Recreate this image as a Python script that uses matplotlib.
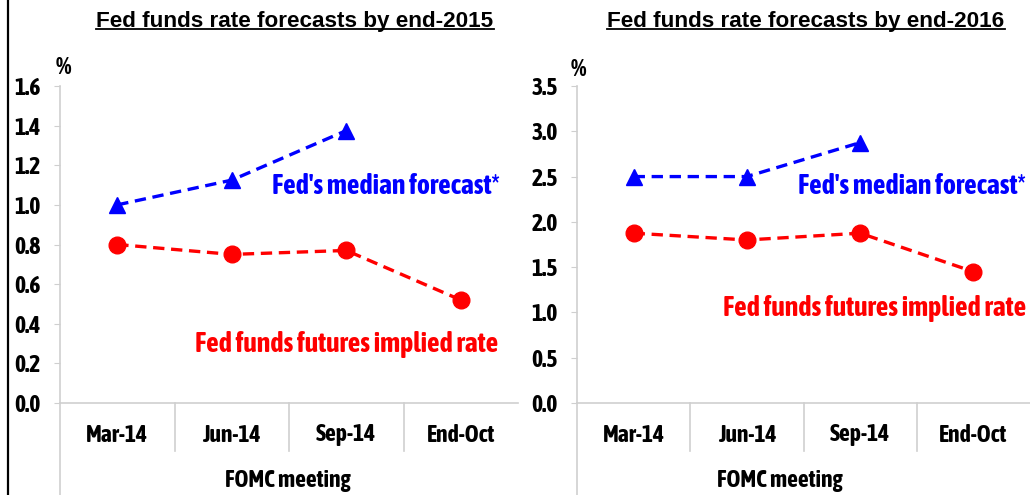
import matplotlib
matplotlib.use("Agg")
import matplotlib.pyplot as plt
import matplotlib.patheffects as pe
from matplotlib import font_manager
from matplotlib.lines import Line2D

# --- données --- #
meetings = ["Mar-14", "Jun-14", "Sep-14", "End-Oct"]

fed_median_2015 = [1.0, 1.125, 1.375]
futures_2015 = [0.80, 0.75, 0.77, 0.52]

fed_median_2016 = [2.5, 2.5, 2.875]
futures_2016 = [1.875, 1.80, 1.875, 1.45]

titles = ["Fed funds rate forecasts by end-2015", "Fed funds rate forecasts by end-2016"]
y_ticks_2015 = [0.0, 0.2, 0.4, 0.6, 0.8, 1.0, 1.2, 1.4, 1.6]
y_ticks_2016 = [0.0, 0.5, 1.0, 1.5, 2.0, 2.5, 3.0, 3.5]

W, H = 1030, 495
GREY = "#cfcfcf"
BLUE = "#0000ff"
RED = "#ff0000"
WIDE = ["Liberation Sans", "DejaVu Sans"]


def weight_of(f):
    if isinstance(f.weight, int):
        return f.weight
    return font_manager.weight_dict.get(f.weight, 400)


# police étroite (Arial Narrow Bold dans l'original)
fonts = font_manager.fontManager.ttflist
is_narrow = lambda n: "Narrow" in n or "Condensed" in n
bold_narrow = sorted({f.name for f in fonts if is_narrow(f.name) and weight_of(f) >= 600})
any_narrow = sorted({f.name for f in fonts if is_narrow(f.name)})
if bold_narrow:
    NARROW = [bold_narrow[0]] + WIDE
    fake_bold = False
elif any_narrow:
    NARROW = [any_narrow[0]] + WIDE
    fake_bold = True
else:
    NARROW = WIDE
    fake_bold = False


def ntext(x, y, s, color="black", size=17, **kw):
    """texte en gras étroit (gras simulé par un contour si besoin)"""
    effects = [pe.withStroke(linewidth=0.9, foreground=color)] if fake_bold else []
    return fig.text(x, y, s, color=color, fontfamily=NARROW, fontweight="bold",
                    fontsize=size, path_effects=effects, **kw)


fig = plt.figure(figsize=(W / 100, H / 100), dpi=100)


def px(x, y):
    return x / W, 1 - y / H


def panel(rect, median, futures, yticks, title, title_x, pct_xy,
          blue_xy, red_xy, fomc_x):
    ax = fig.add_axes(rect)
    x = list(range(len(meetings)))

    ax.plot(x[:len(median)], median, color=BLUE, ls=(0, (3.4, 2.0)), lw=2.4,
            marker="^", markersize=12, clip_on=False, zorder=3)
    ax.plot(x, futures, color=RED, ls=(0, (3.4, 2.0)), lw=2.4,
            marker="o", markersize=12, clip_on=False, zorder=3)

    ax.set_xlim(-0.5, len(meetings) - 0.5)
    ax.set_ylim(yticks[0], yticks[-1])
    ax.set_yticks(yticks)
    labels = ax.set_yticklabels([f"{v:.1f}" for v in yticks], fontfamily=NARROW,
                                fontweight="bold", fontsize=17)
    if fake_bold:
        for lab in labels:
            lab.set_path_effects([pe.withStroke(linewidth=0.9, foreground="black")])
    ax.tick_params(axis="y", length=4, color=GREY, pad=10)
    ax.set_xticks([])

    for s in ["top", "right"]:
        ax.spines[s].set_visible(False)
    for s in ["left", "bottom"]:
        ax.spines[s].set_color(GREY)
        ax.spines[s].set_linewidth(1.2)

    # axe y prolongé jusqu'en bas + séparateurs de catégories
    ax.plot([0, 0], [0, -0.30], transform=ax.transAxes, color=GREY,
            lw=1.2, clip_on=False)
    for i in range(1, len(meetings)):
        ax.plot([i / len(meetings)] * 2, [0, -0.15], transform=ax.transAxes,
                color=GREY, lw=1.2, clip_on=False)

    # catégories
    for i, m in enumerate(meetings):
        xf, _ = fig.transFigure.inverted().transform(ax.transData.transform((i, 0)))
        ntext(xf, px(0, 435)[1], m, ha="center", va="center")

    ntext(*px(fomc_x, 481), "FOMC meeting", ha="center", va="center")
    ntext(*px(*pct_xy), "%", size=18, ha="center", va="center")

    ntext(*px(*blue_xy), "Fed's median forecast*", color=BLUE, size=20,
          ha="right", va="center")
    ntext(*px(*red_xy), "Fed funds futures implied rate", color=RED, size=20,
          ha="right", va="center")

    t = fig.text(*px(title_x, 21), title, ha="center", va="center",
                 fontfamily=WIDE, fontweight="bold", fontsize=16.2)
    return ax, t


bottom = 1 - 403 / H
height = 317 / H
ax1, t1 = panel([60 / W, bottom, 458 / W, height], fed_median_2015,
                futures_2015, y_ticks_2015, titles[0], 295, (63, 68),
                (500, 187), (498, 344), 288)
ax2, t2 = panel([577 / W, bottom, 453 / W, height], fed_median_2016,
                futures_2016, y_ticks_2016, titles[1], 806, (578, 70),
                (1026, 187), (1026, 309), 780)

# soulignement des titres
renderer = fig.canvas.get_renderer()
for t in (t1, t2):
    bb = t.get_window_extent(renderer=renderer).transformed(fig.transFigure.inverted())
    fig.add_artist(Line2D([bb.x0, bb.x1], [bb.y0 + 0.006, bb.y0 + 0.006],
                          color="black", lw=1.3, transform=fig.transFigure))

# bordure gauche
fig.add_artist(Line2D([7.5 / W, 7.5 / W], [0, 1], color="black", lw=1.6,
                      transform=fig.transFigure))

fig.savefig("out.png", dpi=100)
